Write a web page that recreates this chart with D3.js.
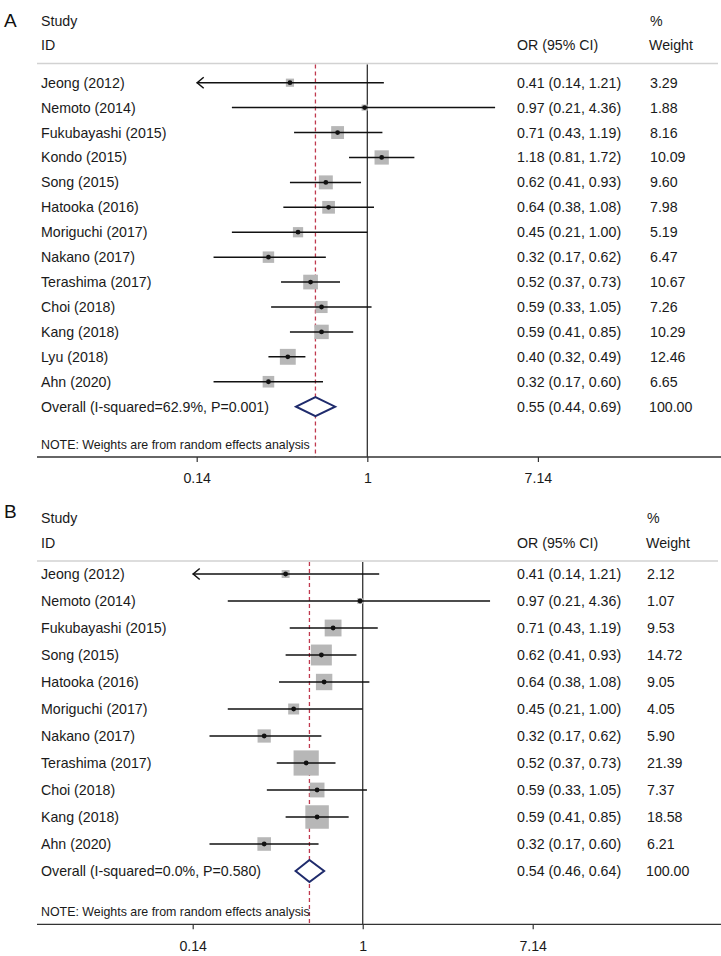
<!DOCTYPE html>
<html>
<head>
<meta charset="utf-8">
<script src="https://cdn.jsdelivr.net/npm/d3@7"></script>
<style>
  html, body { margin: 0; padding: 0; background: #fff; }
  svg { display: block; font-family: "Liberation Sans", Arial, Helvetica, sans-serif; }
</style>
</head>
<body>
<svg id="chart" width="721" height="956"></svg>
<script>
// ---------- Data ----------
const studiesA = ["Jeong (2012)", "Nemoto (2014)", "Fukubayashi (2015)", "Kondo (2015)", "Song (2015)", "Hatooka (2016)", "Moriguchi (2017)", "Nakano (2017)", "Terashima (2017)", "Choi (2018)", "Kang (2018)", "Lyu (2018)", "Ahn (2020)"];
const orA     = [0.41, 0.97, 0.71, 1.18, 0.62, 0.64, 0.45, 0.32, 0.52, 0.59, 0.59, 0.40, 0.32];
const lowA    = [0.14, 0.21, 0.43, 0.81, 0.41, 0.38, 0.21, 0.17, 0.37, 0.33, 0.41, 0.32, 0.17];
const highA   = [1.21, 4.36, 1.19, 1.72, 0.93, 1.08, 1.00, 0.62, 0.73, 1.05, 0.85, 0.49, 0.60];
const weightA = [3.29, 1.88, 8.16, 10.09, 9.60, 7.98, 5.19, 6.47, 10.67, 7.26, 10.29, 12.46, 6.65];
const overallA = [0.55, 0.44, 0.69, 100.00];
const hetA = "Overall (I-squared=62.9%, P=0.001)";

const studiesB = ["Jeong (2012)", "Nemoto (2014)", "Fukubayashi (2015)", "Song (2015)", "Hatooka (2016)", "Moriguchi (2017)", "Nakano (2017)", "Terashima (2017)", "Choi (2018)", "Kang (2018)", "Ahn (2020)"];
const orB     = [0.41, 0.97, 0.71, 0.62, 0.64, 0.45, 0.32, 0.52, 0.59, 0.59, 0.32];
const lowB    = [0.14, 0.21, 0.43, 0.41, 0.38, 0.21, 0.17, 0.37, 0.33, 0.41, 0.17];
const highB   = [1.21, 4.36, 1.19, 0.93, 1.08, 1.00, 0.62, 0.73, 1.05, 0.85, 0.60];
const weightB = [2.12, 1.07, 9.53, 14.72, 9.05, 4.05, 5.90, 21.39, 7.37, 18.58, 6.21];
const overallB = [0.54, 0.46, 0.64, 100.00];
const hetB = "Overall (I-squared=0.0%, P=0.580)";

const tickValues = [0.14, 1, 7.14];
const tickLabels = ["0.14", "1", "7.14"];
const noteText = "NOTE: Weights are from random effects analysis";

// ---------- Drawing ----------
const svg = d3.select("#chart");
const TEXT = "#1a1a1a";
const FS = 14.2;

function drawPanel(p) {
  const g = svg.append("g");
  const x = d3.scaleLog().domain([tickValues[0], tickValues[2]]).range([p.x0, p.x1]);
  const rowY = i => p.firstRow + i * p.rowStep;
  const n = p.studies.length;
  const overallY = rowY(n);

  // panel letter
  g.append("text").attr("x", 4).attr("y", p.letterY).attr("dy", "0.35em")
    .attr("font-size", 19).attr("fill", "#111").text(p.letter);

  // headers
  const hdr = (tx, xx, yy) => g.append("text").attr("x", xx).attr("y", yy).attr("dy", "0.35em")
    .attr("font-size", FS).attr("fill", TEXT).text(tx);
  hdr("Study", 41, p.headY1);
  hdr("ID", 41, p.headY2);
  hdr("%", p.wX + 1, p.headY1);
  hdr("OR (95% CI)", 517, p.headY2);
  hdr("Weight", p.wX, p.headY2);

  // separator
  g.append("line").attr("x1", 37).attr("x2", 718).attr("y1", p.sepY).attr("y2", p.sepY)
    .attr("stroke", "#d2d2d2").attr("stroke-width", 1.6);

  // null line
  g.append("line").attr("x1", x(1)).attr("x2", x(1)).attr("y1", p.sepY + 1).attr("y2", p.axisY)
    .attr("stroke", "#333").attr("stroke-width", 1.3);

  // overall dashed line
  g.append("line").attr("x1", x(p.overall[0])).attr("x2", x(p.overall[0]))
    .attr("y1", p.sepY + 1).attr("y2", p.axisY)
    .attr("stroke", "#c0394e").attr("stroke-width", 1.3).attr("stroke-dasharray", "4,3");

  // axis
  const axis = d3.axisBottom(x).tickValues(tickValues).tickFormat((d, i) => tickLabels[i])
    .tickSize(5).tickSizeOuter(0);
  const ax = g.append("g").attr("transform", `translate(0,${p.axisY})`).call(axis);
  ax.select(".domain").remove();
  ax.selectAll(".tick line").attr("stroke", "#333").attr("stroke-width", 1.2);
  ax.selectAll(".tick text").attr("font-size", FS).attr("fill", TEXT)
    .attr("font-family", "'Liberation Sans', Arial, sans-serif").attr("dy", "1.3em");
  g.append("line").attr("x1", 37).attr("x2", 721).attr("y1", p.axisY).attr("y2", p.axisY)
    .attr("stroke", "#333").attr("stroke-width", 1.3);

  const minV = tickValues[0], maxV = tickValues[2];

  // rows
  p.studies.forEach((s, i) => {
    const y = rowY(i);
    g.append("text").attr("x", 41).attr("y", y).attr("dy", "0.35em")
      .attr("font-size", FS).attr("fill", TEXT).text(s);
    // box
    const side = p.boxK * Math.sqrt(p.weight[i]);
    g.append("rect").attr("x", x(p.or[i]) - side / 2).attr("y", y - side / 2)
      .attr("width", side).attr("height", side).attr("fill", "#b7b7b7");
    // CI line
    const lo = Math.max(p.low[i], minV), hi = Math.min(p.high[i], maxV);
    g.append("line").attr("x1", x(lo)).attr("x2", x(hi)).attr("y1", y).attr("y2", y)
      .attr("stroke", "#111").attr("stroke-width", 1.5);
    if (p.low[i] <= minV) {
      const ax0 = x(minV);
      g.append("path").attr("d", `M${ax0 + 7},${y - 5.5} L${ax0 + 0.5},${y} L${ax0 + 7},${y + 5.5}`)
        .attr("fill", "none").attr("stroke", "#111").attr("stroke-width", 1.5);
    }
    // point
    g.append("circle").attr("cx", x(p.or[i])).attr("cy", y).attr("r", 2.4).attr("fill", "#111");
    // text columns
    g.append("text").attr("x", 517).attr("y", y).attr("dy", "0.35em").attr("font-size", FS).attr("fill", TEXT)
      .text(`${p.or[i].toFixed(2)} (${p.low[i].toFixed(2)}, ${p.high[i].toFixed(2)})`);
    g.append("text").attr("x", p.wX + 1).attr("y", y).attr("dy", "0.35em").attr("font-size", FS).attr("fill", TEXT)
      .text(p.weight[i].toFixed(2));
  });

  // overall row
  g.append("text").attr("x", 41).attr("y", overallY).attr("dy", "0.35em")
    .attr("font-size", FS).attr("fill", TEXT).text(p.het);
  const [oe, ol, oh, ow] = p.overall;
  const dh = p.diamondH;
  g.append("path")
    .attr("d", `M${x(ol)},${overallY} L${x(oe)},${overallY - dh} L${x(oh)},${overallY} L${x(oe)},${overallY + dh} Z`)
    .attr("fill", "#fff").attr("stroke", "#1f2b6c").attr("stroke-width", 2).attr("stroke-linejoin", "miter");
  g.append("text").attr("x", 517).attr("y", overallY).attr("dy", "0.35em").attr("font-size", FS).attr("fill", TEXT)
    .text(`${oe.toFixed(2)} (${ol.toFixed(2)}, ${oh.toFixed(2)})`);
  g.append("text").attr("x", p.wX).attr("y", overallY).attr("dy", "0.35em").attr("font-size", FS).attr("fill", TEXT)
    .text(ow.toFixed(2));

  // note
  g.append("text").attr("x", 41).attr("y", p.noteY).attr("dy", "0.35em")
    .attr("font-size", 12.4).attr("fill", TEXT).text(noteText);
}

drawPanel({
  letter: "A", letterY: 20, headY1: 21, headY2: 45, sepY: 63.5,
  studies: studiesA, or: orA, low: lowA, high: highA, weight: weightA, overall: overallA, het: hetA,
  firstRow: 82.7, rowStep: 24.92, noteY: 445, axisY: 457,
  x0: 196.7, x1: 537.9, boxK: 4.5, diamondH: 9.5, wX: 649
});

drawPanel({
  letter: "B", letterY: 511, headY1: 518, headY2: 543, sepY: 561,
  studies: studiesB, or: orB, low: lowB, high: highB, weight: weightB, overall: overallB, het: hetB,
  firstRow: 574, rowStep: 27, noteY: 912, axisY: 924.3,
  x0: 192.7, x1: 532.7, boxK: 5.45, diamondH: 11, wX: 646
});
</script>
</body>
</html>
